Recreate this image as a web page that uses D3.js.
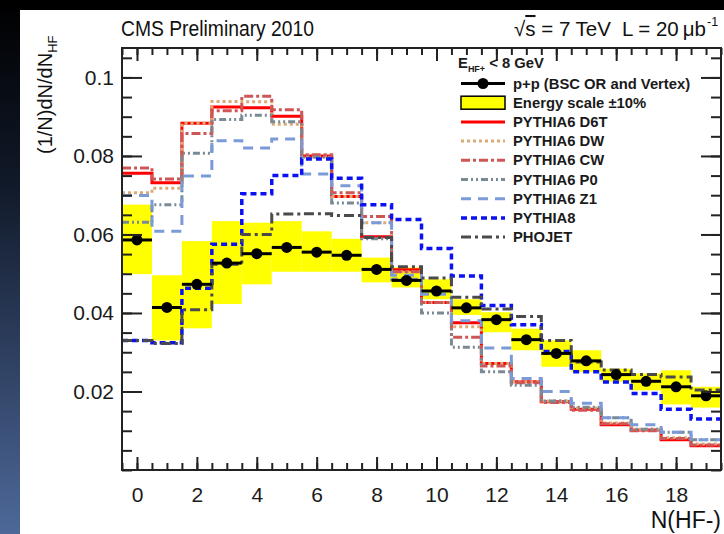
<!DOCTYPE html>
<html><head><meta charset="utf-8">
<script src="https://cdn.jsdelivr.net/npm/d3@7"></script>
<style>
html,body{margin:0;padding:0;background:#fff;}
svg{display:block;}
text{font-family:"Liberation Sans",Arial,Helvetica,sans-serif;}
</style></head><body>
<svg id="c" width="724" height="534"></svg>
<script>
// N(HF-) bins
const nHF = [0,1,2,3,4,5,6,7,8,9,10,11,12,13,14,15,16,17,18,19];

// measured p+p (BSC OR and Vertex)
const dataVals = [0.0586,0.0414,0.0473,0.0527,0.0551,0.0567,0.0555,0.0547,0.0511,0.0483,0.0456,0.0413,0.0383,0.0332,0.0297,0.0278,0.0243,0.0226,0.0212,0.0189];
// energy scale +-10% band
const bandLo = [0.0499,0.0330,0.0361,0.0423,0.0473,0.0505,0.0505,0.0505,0.0478,0.0465,0.0435,0.0395,0.0351,0.0305,0.0263,0.0250,0.0225,0.0203,0.0167,0.0159];
const bandHi = [0.0676,0.0496,0.0583,0.0634,0.0630,0.0634,0.0608,0.0589,0.0541,0.0516,0.0486,0.0435,0.0402,0.0360,0.0330,0.0305,0.0258,0.0246,0.0254,0.0212];

// generator predictions
const d6t    = [0.0756,0.0732,0.0883,0.0925,0.0923,0.0901,0.0800,0.0697,0.0594,0.0510,0.0427,0.0375,0.0271,0.0225,0.0174,0.0155,0.0115,0.0102,0.0077,0.0062];
const dw     = [0.0706,0.0718,0.0883,0.0939,0.0938,0.0881,0.0800,0.0697,0.0630,0.0505,0.0427,0.0365,0.0271,0.0225,0.0176,0.0158,0.0120,0.0104,0.0082,0.0066];
const cw     = [0.0769,0.0741,0.0857,0.0915,0.0952,0.0918,0.0803,0.0706,0.0646,0.0505,0.0427,0.0338,0.0265,0.0222,0.0172,0.0152,0.0118,0.0100,0.0080,0.0064];
const p0     = [0.0631,0.0676,0.0807,0.0893,0.0904,0.0887,0.0797,0.0680,0.0589,0.0486,0.0400,0.0313,0.0250,0.0216,0.0176,0.0160,0.0133,0.0104,0.0096,0.0077];
const z1     = [0.0699,0.0608,0.0749,0.0839,0.0820,0.0843,0.0754,0.0724,0.0630,0.0496,0.0448,0.0380,0.0311,0.0233,0.0200,0.0170,0.0133,0.0115,0.0096,0.0077];
const py8    = [0.0330,0.0324,0.0463,0.0575,0.0704,0.0750,0.0792,0.0743,0.0676,0.0638,0.0564,0.0494,0.0419,0.0370,0.0302,0.0250,0.0224,0.0195,0.0155,0.0130];
const phojet = [0.0330,0.0322,0.0408,0.0524,0.0600,0.0652,0.0653,0.0648,0.0592,0.0518,0.0489,0.0440,0.0410,0.0391,0.0330,0.0275,0.0255,0.0243,0.0237,0.0204];

// axis ticks
const xTicks = [0,2,4,6,8,10,12,14,16,18];
const xTickLabels = ["0","2","4","6","8","10","12","14","16","18"];
const yTicks = [0.02,0.04,0.06,0.08,0.1];
const yTickLabels = ["0.02","0.04","0.06","0.08","0.1"];

const svg = d3.select("#c");
const W = 724, H = 534;
const L = 122, R = 721, T = 48, B = 470;

// slide backdrop: dark strip on the left and along the top
const defs = svg.append("defs");
const g1 = defs.append("linearGradient").attr("id","strip").attr("x1",0).attr("y1",0).attr("x2",0).attr("y2",1);
g1.append("stop").attr("offset","0").attr("stop-color","#000");
g1.append("stop").attr("offset","0.35").attr("stop-color","#111a2a");
g1.append("stop").attr("offset","1").attr("stop-color","#4d6899");
svg.append("rect").attr("x",0).attr("y",0).attr("width",W).attr("height",H).attr("fill","#fff");
svg.append("rect").attr("x",0).attr("y",0).attr("width",20).attr("height",H).attr("fill","url(#strip)");
svg.append("rect").attr("x",0).attr("y",0).attr("width",W).attr("height",10).attr("fill","#000");
defs.append("clipPath").attr("id","plotclip").append("rect").attr("x",L).attr("y",T).attr("width",R-L).attr("height",B-T);

const x = d3.scaleLinear().domain([-0.5,19.5]).range([L,R]);
const y = d3.scaleLinear().domain([0,0.1075]).range([B,T]);

const plot = svg.append("g").attr("clip-path","url(#plotclip)");

// yellow systematic band
plot.selectAll("rect.band").data(nHF).join("rect").attr("class","band")
  .attr("x", d => x(d-0.5)).attr("width", d => x(d+0.5)-x(d-0.5))
  .attr("y", (d,i) => y(bandHi[i])).attr("height", (d,i) => y(bandLo[i])-y(bandHi[i]))
  .attr("fill","#ffff00");

const series = [
  {name:"PYTHIA6 D6T", vals:d6t,    color:"#ff0000", dash:null,            w:3},
  {name:"PYTHIA6 DW",  vals:dw,     color:"#dcaa78", dash:"3,3",           w:3},
  {name:"PYTHIA6 CW",  vals:cw,     color:"#cf5656", dash:"9,3,3,3",       w:3},
  {name:"PYTHIA6 P0",  vals:p0,     color:"#7a8a94", dash:"7,3,2,3,2,3",   w:3},
  {name:"PYTHIA6 Z1",  vals:z1,     color:"#7b9bd8", dash:"10,7",          w:3},
  {name:"PYTHIA8",     vals:py8,    color:"#0a12f2", dash:"6,4",           w:3.5},
  {name:"PHOJET",      vals:phojet, color:"#4a4a4a", dash:"10,4,3,4",      w:3}
];

const step = d3.line().x(d => x(d[0])).y(d => y(d[1])).curve(d3.curveStepAfter);
series.forEach(s => {
  const pts = nHF.map((n,i) => [n-0.5, s.vals[i]]);
  pts.push([nHF[nHF.length-1]+0.5, s.vals[s.vals.length-1]]);
  plot.append("path").attr("d", step(pts)).attr("fill","none")
    .attr("stroke", s.color).attr("stroke-width", s.w)
    .attr("stroke-dasharray", s.dash);
});

// data points with bin-width bars
plot.selectAll("line.xerr").data(nHF).join("line").attr("class","xerr")
  .attr("x1", d => x(d-0.5)).attr("x2", d => x(d+0.5))
  .attr("y1", (d,i) => y(dataVals[i])).attr("y2", (d,i) => y(dataVals[i]))
  .attr("stroke","#000").attr("stroke-width",3);
plot.selectAll("circle.pt").data(nHF).join("circle").attr("class","pt")
  .attr("cx", d => x(d)).attr("cy", (d,i) => y(dataVals[i])).attr("r",5.5).attr("fill","#000");

// axes
const axCol = "#222";
function styleAxis(g){ g.select(".domain").remove(); g.selectAll("line").attr("stroke",axCol).attr("stroke-width",2); }
const xMinor = d3.range(-0.5, 19.51, 0.5);
const yMinor = d3.range(0, 0.1076, 0.005);

svg.append("g").attr("transform",`translate(0,${B})`)
  .call(d3.axisBottom(x).tickValues(xMinor).tickSize(-7).tickFormat("")).call(styleAxis);
svg.append("g").attr("transform",`translate(0,${B})`)
  .call(d3.axisBottom(x).tickValues(xTicks).tickSize(-13).tickPadding(17).tickFormat((d,i)=>xTickLabels[i]))
  .call(styleAxis)
  .call(g => g.selectAll("text").attr("font-size",21).attr("fill","#1a1a1a").attr("font-family","Liberation Sans, Arial, sans-serif"));
svg.append("g").attr("transform",`translate(0,${T})`)
  .call(d3.axisTop(x).tickValues(xMinor).tickSize(-7).tickFormat("")).call(styleAxis);
svg.append("g").attr("transform",`translate(0,${T})`)
  .call(d3.axisTop(x).tickValues(xTicks).tickSize(-13).tickFormat("")).call(styleAxis);

svg.append("g").attr("transform",`translate(${L},0)`)
  .call(d3.axisLeft(y).tickValues(yMinor).tickSize(-10).tickFormat("")).call(styleAxis);
svg.append("g").attr("transform",`translate(${L},0)`)
  .call(d3.axisLeft(y).tickValues(yTicks).tickSize(-20).tickPadding(8).tickFormat((d,i)=>yTickLabels[i]))
  .call(styleAxis)
  .call(g => g.selectAll("text").attr("font-size",21).attr("fill","#1a1a1a").attr("font-family","Liberation Sans, Arial, sans-serif"));
svg.append("g").attr("transform",`translate(${R},0)`)
  .call(d3.axisRight(y).tickValues(yMinor).tickSize(-10).tickFormat("")).call(styleAxis);
svg.append("g").attr("transform",`translate(${R},0)`)
  .call(d3.axisRight(y).tickValues(yTicks).tickSize(-20).tickFormat("")).call(styleAxis);

svg.append("rect").attr("x",L).attr("y",T).attr("width",R-L).attr("height",B-T)
  .attr("fill","none").attr("stroke",axCol).attr("stroke-width",2);

// titles
svg.append("text").attr("x",121).attr("y",36).attr("font-size",22).attr("fill","#111")
  .attr("textLength",193).attr("lengthAdjust","spacingAndGlyphs").text("CMS Preliminary 2010");
const rtA = svg.append("text").attr("x",514).attr("y",36).attr("font-size",20.5).attr("fill","#111");
rtA.append("tspan").text("\u221A");
rtA.append("tspan").attr("text-decoration","overline").text("s");
rtA.append("tspan").text(" = 7 TeV");
svg.append("text").attr("x",706).attr("y",36).attr("text-anchor","end").attr("font-size",20.5)
  .attr("fill","#111").text("L = 20\u2009\u03BCb");
svg.append("text").attr("x",707).attr("y",26).attr("font-size",12.5).attr("fill","#111").text("-1");

// axis titles
const yl = svg.append("text").attr("transform","translate(52,154) rotate(-90)").attr("font-size",20).attr("fill","#111");
yl.append("tspan").text("(1/N)dN/dN");
yl.append("tspan").attr("font-size",13).attr("dy",5).text("HF");
svg.append("text").attr("x",721).attr("y",528).attr("text-anchor","end").attr("font-size",23).attr("fill","#111").text("N(HF-)");

// legend
const lg = svg.append("g").attr("font-weight","bold").attr("font-size",14.8).attr("fill","#1a1a1a");
const hdr = lg.append("text").attr("x",458).attr("y",68);
hdr.append("tspan").text("E");
hdr.append("tspan").attr("font-size",9).attr("dy",4).text("HF+");
hdr.append("tspan").attr("dy",-4).text(" < 8 GeV");

const ly0 = 83.5, ldy = 19.2, lx1 = 461, lx2 = 505, ltx = 513;
// data entry
lg.append("line").attr("x1",lx1).attr("x2",lx2).attr("y1",ly0).attr("y2",ly0).attr("stroke","#000").attr("stroke-width",3);
lg.append("circle").attr("cx",(lx1+lx2)/2).attr("cy",ly0).attr("r",5.5).attr("fill","#000");
lg.append("text").attr("x",ltx).attr("y",ly0+5).text("p+p (BSC OR and Vertex)");
// band entry
lg.append("rect").attr("x",lx1).attr("y",ly0+ldy-6.5).attr("width",lx2-lx1).attr("height",13)
  .attr("fill","#ffff00").attr("stroke","#000").attr("stroke-width",1.5);
lg.append("text").attr("x",ltx).attr("y",ly0+ldy+5).text("Energy scale \u00B110%");
series.forEach((s,i) => {
  const yy = ly0 + ldy*(i+2);
  lg.append("line").attr("x1",lx1).attr("x2",lx2).attr("y1",yy).attr("y2",yy)
    .attr("stroke",s.color).attr("stroke-width",s.w).attr("stroke-dasharray",s.dash);
  lg.append("text").attr("x",ltx).attr("y",yy+5).text(s.name);
});
</script>
</body></html>
